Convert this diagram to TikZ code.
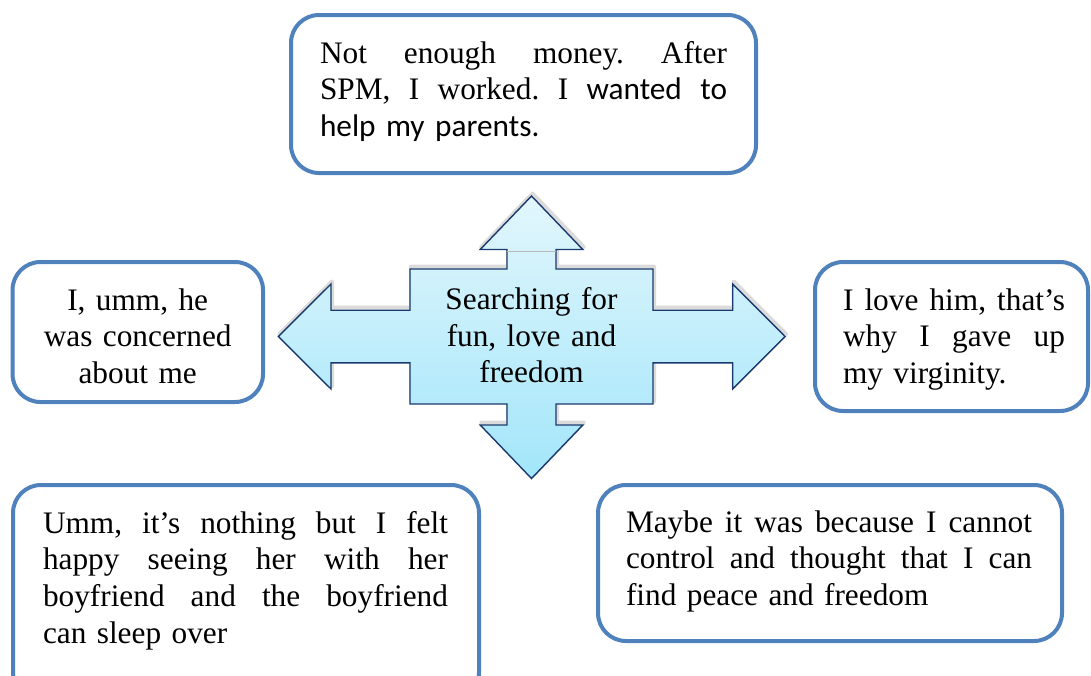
\documentclass[tikz,border=0pt]{standalone}
\usepackage{fontspec}
\setmainfont{Liberation Serif}
\newfontfamily\calibri{Carlito}
\definecolor{boxblue}{HTML}{4F81BD}
\definecolor{arrowline}{HTML}{1A3A6E}
\definecolor{arrowtop}{HTML}{E2F6FC}
\definecolor{arrowbottom}{HTML}{A2E6FA}
% outline of the four-way arrow
\newcommand\crossarrowpath{%
  (531.5,196) -- (582.8,249.5) -- (556,249.5) -- (556,269) -- (653,269) --
  (653,310.2) -- (732.7,310.2) -- (732.7,284) -- (785,336.5) -- (732.7,389) --
  (732.7,362.8) -- (653,362.8) -- (653,404) -- (556,404) -- (556,425) --
  (582.8,425) -- (531.5,478.5) -- (480.2,425) -- (507,425) -- (507,404) --
  (410,404) -- (410,362.8) -- (331,362.8) -- (331,389) -- (278.3,336.5) --
  (331,284) -- (331,310.2) -- (410,310.2) -- (410,269) -- (507,269) --
  (507,249.5) -- (480.2,249.5) -- cycle}
% one justified line of a given width: word spaces stretch to fill it
\newcommand\jline[2]{\leavevmode\hbox to #1{\spaceskip=0.25em plus 1fil\xspaceskip=\spaceskip #2}}
\begin{document}
\begin{tikzpicture}[x=1pt,y=-1pt,
  quote/.style={draw=boxblue, line width=4pt, rounded corners=28pt, inner sep=0pt, fill=white},
  words/.style={inner sep=0pt, outer sep=0pt, font=\fontsize{31.3}{36.7}\selectfont\frenchspacing, anchor=base west, align=left},
]
\useasboundingbox (0,0) rectangle (1091,675);
\clip (0,0) rectangle (1091,675);

% quotation boxes
\node[quote, minimum width=465pt, minimum height=158pt] (topbox) at (523.5,94) {};
\node[quote, minimum width=250.5pt, minimum height=140pt] (leftbox) at (137.75,332) {};
\node[quote, minimum width=273pt, minimum height=149pt] (rightbox) at (951.5,336.5) {};
\node[quote, minimum width=466pt, minimum height=215pt] (blbox) at (246,592.5) {};
\node[quote, minimum width=464pt, minimum height=156pt] (brbox) at (830,563) {};

% four-way arrow with soft shadow and vertical gradient
\draw[gray!28, line width=4pt, line join=round, shift={(1pt,2.5pt)}] \crossarrowpath;
\path[top color=arrowtop, bottom color=arrowbottom] \crossarrowpath;
\draw[arrowline, line width=1.4pt, line join=miter] \crossarrowpath;
\draw[gray!55, line width=0.6pt] (507,251) -- (556,251);

% texts
\node[words, text width=407pt] (toptext) at (320,63)
  {\jline{407pt}{Not enough money. After}\\
   \jline{407pt}{SPM, I worked. I {\calibri wanted to}}\\
   {\calibri help my parents.}};
\node[words, text width=240pt, align=center, anchor=base] (lefttext) at (137.7,310)
  {I, umm, he\\was concerned\\about me};
\node[words, text width=222pt] (righttext) at (843,310)
  {\jline{222pt}{I love him, that’s}\\
   \jline{222pt}{why I gave up}\\
   my virginity.};
\node[words, text width=240pt, align=center, anchor=base] (centertext) at (531.5,309.3)
  {Searching for\\fun, love and\\freedom};
\node[words, text width=405pt] (bltext) at (43,533)
  {\jline{405pt}{Umm, it’s nothing but I felt}\\
   \jline{405pt}{happy seeing her with her}\\
   \jline{405pt}{boyfriend and the boyfriend}\\
   can sleep over};
\node[words, text width=406pt] (brtext) at (626,532)
  {\jline{406pt}{Maybe it was because I cannot}\\
   \jline{406pt}{control and thought that I can}\\
   find peace and freedom};
\end{tikzpicture}
\end{document}
